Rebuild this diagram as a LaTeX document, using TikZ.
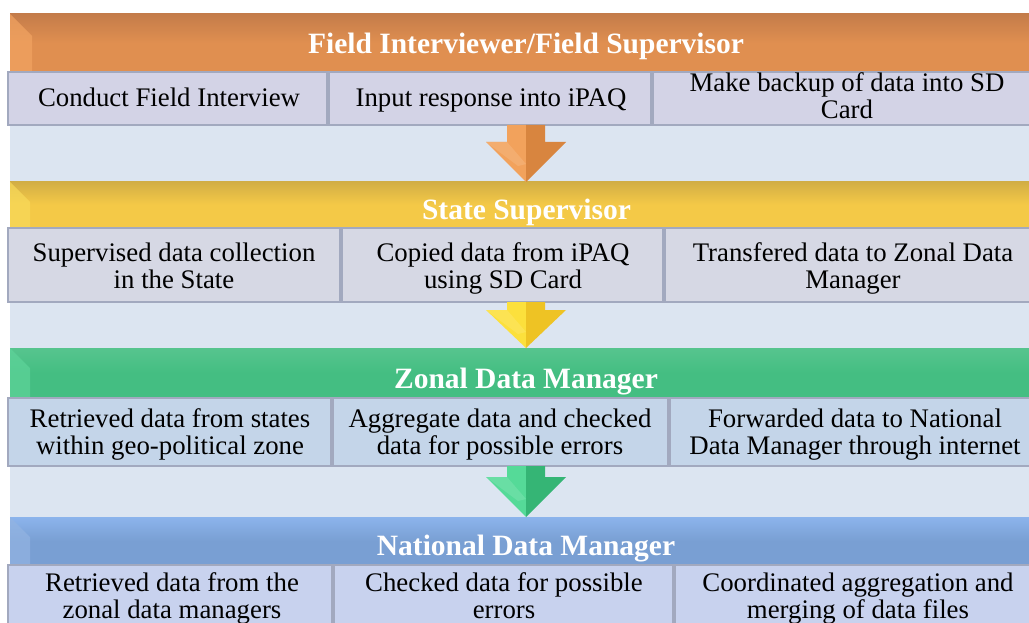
\documentclass[tikz,border=0pt]{standalone}
\usepackage{fontspec}
\setmainfont{Liberation Serif}
\usetikzlibrary{calc}
\definecolor{bgblue}{HTML}{DCE5F1}
\definecolor{cellline}{HTML}{A2A9BF}
\definecolor{orA}{HTML}{C47C4A}\definecolor{orB}{HTML}{E08F50}\definecolor{orL}{HTML}{F2A462}
\definecolor{yeA}{HTML}{D2AE45}\definecolor{yeB}{HTML}{F4C947}\definecolor{yeL}{HTML}{F8DA5A}
\definecolor{grA}{HTML}{3FAE78}\definecolor{grB}{HTML}{44BE82}\definecolor{grL}{HTML}{5ED49A}
\definecolor{blA}{HTML}{8CB4EC}\definecolor{blB}{HTML}{799FD3}\definecolor{blL}{HTML}{93B4E2}
\definecolor{cOne}{HTML}{D3D3E6}\definecolor{cTwo}{HTML}{D6D8E4}
\definecolor{cThree}{HTML}{C4D5E9}\definecolor{cFour}{HTML}{C8D2EE}
\definecolor{aoL}{HTML}{F2A25C}\definecolor{aoR}{HTML}{D8853F}
\definecolor{ayL}{HTML}{FCE03C}\definecolor{ayR}{HTML}{EEC324}
\definecolor{agL}{HTML}{55DA98}\definecolor{agR}{HTML}{35B575}
\tikzset{
  band/.style={rectangle, inner sep=0pt, outer sep=0pt, minimum width=1032pt},
  cell/.style={rectangle, draw=cellline, line width=1.2pt, inner sep=0pt, outer sep=0pt},
  celltext/.style={anchor=base, inner sep=0pt, align=center, font=\fontsize{26.8}{27}\selectfont},
  title/.style={anchor=base, text=white, inner sep=0pt, font=\fontsize{29.5}{30}\selectfont\bfseries},
}
\begin{document}
\begin{tikzpicture}[x=1pt,y=-1pt]
\clip (0,0) rectangle (1029,623);
\fill[white] (0,0) rectangle (1029,623);
\fill[bgblue] (10,14) rectangle (1029,623);

% bands
\node[band, minimum height=58pt, top color=orA, bottom color=orB, middle color=orB] (b1) at (526,43) {};
\node[band, minimum height=45pt, top color=yeA, bottom color=yeB, middle color=yeB] (b2) at (526,204.5) {};
\node[band, minimum height=50pt, top color=grB!90!white, bottom color=grB, middle color=grB] (b3) at (526,373) {};
\node[band, minimum height=48pt, top color=blA, bottom color=blB, middle color=blB] (b4) at (526,541) {};
% bevels
\fill[orL, opacity=0.7] (b1.north west) -- ++(22,22) -- ($(b1.south west)+(22,0)$) -- (b1.south west) -- cycle;
\fill[yeL, opacity=0.7] (b2.north west) -- ++(20,20) -- ($(b2.south west)+(20,0)$) -- (b2.south west) -- cycle;
\fill[grL, opacity=0.7] (b3.north west) -- ++(20,20) -- ($(b3.south west)+(20,0)$) -- (b3.south west) -- cycle;
\fill[blL, opacity=0.7] (b4.north west) -- ++(20,20) -- ($(b4.south west)+(20,0)$) -- (b4.south west) -- cycle;

\node[title] (t1) at (526,54) {Field Interviewer/Field Supervisor};
\node[title] (t2) at (526.5,220) {State Supervisor};
\node[title] (t3) at (526,388) {Zonal Data Manager};
\node[title] (t4) at (526,555) {National Data Manager};

% row 1
\node[cell, fill=cOne, minimum width=319pt, minimum height=53pt] (r1a) at (167.5,98.5) {};
\node[cell, fill=cOne, minimum width=322pt, minimum height=53pt] (r1b) at (490,98.5) {};
\node[cell, fill=cOne, minimum width=387pt, minimum height=53pt] (r1c) at (846.5,98.5) {};
\node[celltext] (x1a) at (169,107) {Conduct Field Interview};
\node[celltext] (x1b) at (491,107) {Input response into iPAQ};
\node[celltext] (x1c) at (847,119) {Make backup of data into SD\\Card};
% row 2
\node[cell, fill=cTwo, minimum width=332pt, minimum height=74pt] (r2a) at (174,265) {};
\node[cell, fill=cTwo, minimum width=321pt, minimum height=74pt] (r2b) at (502.5,265) {};
\node[cell, fill=cTwo, minimum width=376pt, minimum height=74pt] (r2c) at (853,265) {};
\node[celltext] (x2a) at (174,288.5) {Supervised data collection\\in the State};
\node[celltext] (x2b) at (503,288.5) {Copied data from iPAQ\\using SD Card};
\node[celltext] (x2c) at (853,288.5) {Transfered data to Zonal Data\\Manager};
% row 3
\node[cell, fill=cThree, minimum width=323pt, minimum height=68pt] (r3a) at (169.5,432) {};
\node[cell, fill=cThree, minimum width=335pt, minimum height=68pt] (r3b) at (500.5,432) {};
\node[cell, fill=cThree, minimum width=370pt, minimum height=68pt] (r3c) at (855,432) {};
\node[celltext] (x3a) at (170,454.5) {Retrieved data from states\\within geo-political zone};
\node[celltext] (x3b) at (500,454.5) {Aggregate data and checked\\data for possible errors};
\node[celltext] (x3c) at (855,454.5) {Forwarded data to National\\Data Manager through internet};
% row 4
\node[cell, fill=cFour, minimum width=324pt, minimum height=64pt] (r4a) at (170,597) {};
\node[cell, fill=cFour, minimum width=339pt, minimum height=64pt] (r4b) at (503.5,597) {};
\node[cell, fill=cFour, minimum width=366pt, minimum height=64pt] (r4c) at (858,597) {};
\node[celltext] (x4a) at (172,618) {Retrieved data from the\\zonal data managers};
\node[celltext] (x4b) at (504,618) {Checked data for possible\\errors};
\node[celltext] (x4c) at (858,618) {Coordinated aggregation and\\merging of data files};

% block arrows: from row above to band below
\newcommand{\blockarrow}[5]{% #1 top node, #2 tip node, #3 head height, #4 left colour, #5 right colour
  \coordinate (T) at (#2.north);
  \coordinate (S) at (#2.north |- #1.south);
  \fill[#4] (T) -- ($(T)+(-40,-#3)$) -- ($(T)+(-19,-#3)$) -- ($(S)+(-19,0)$) -- (S) -- cycle;
  \fill[#5] (T) -- ($(T)+(40,-#3)$) -- ($(T)+(19,-#3)$) -- ($(S)+(19,0)$) -- (S) -- cycle;
  \fill[#4!80!white, opacity=0.6] ($(T)+(-40,-#3)$) -- ($(T)+(-19,-#3)$) -- ($(T)+(0,-#3+22)$) -- ($(T)+(-8,-#3+24)$) -- cycle;
}
\blockarrow{r1b}{b2}{40}{aoL}{aoR}
\blockarrow{r2b}{b3}{38}{ayL}{ayR}
\blockarrow{r3b}{b4}{40}{agL}{agR}
\end{tikzpicture}
\end{document}
